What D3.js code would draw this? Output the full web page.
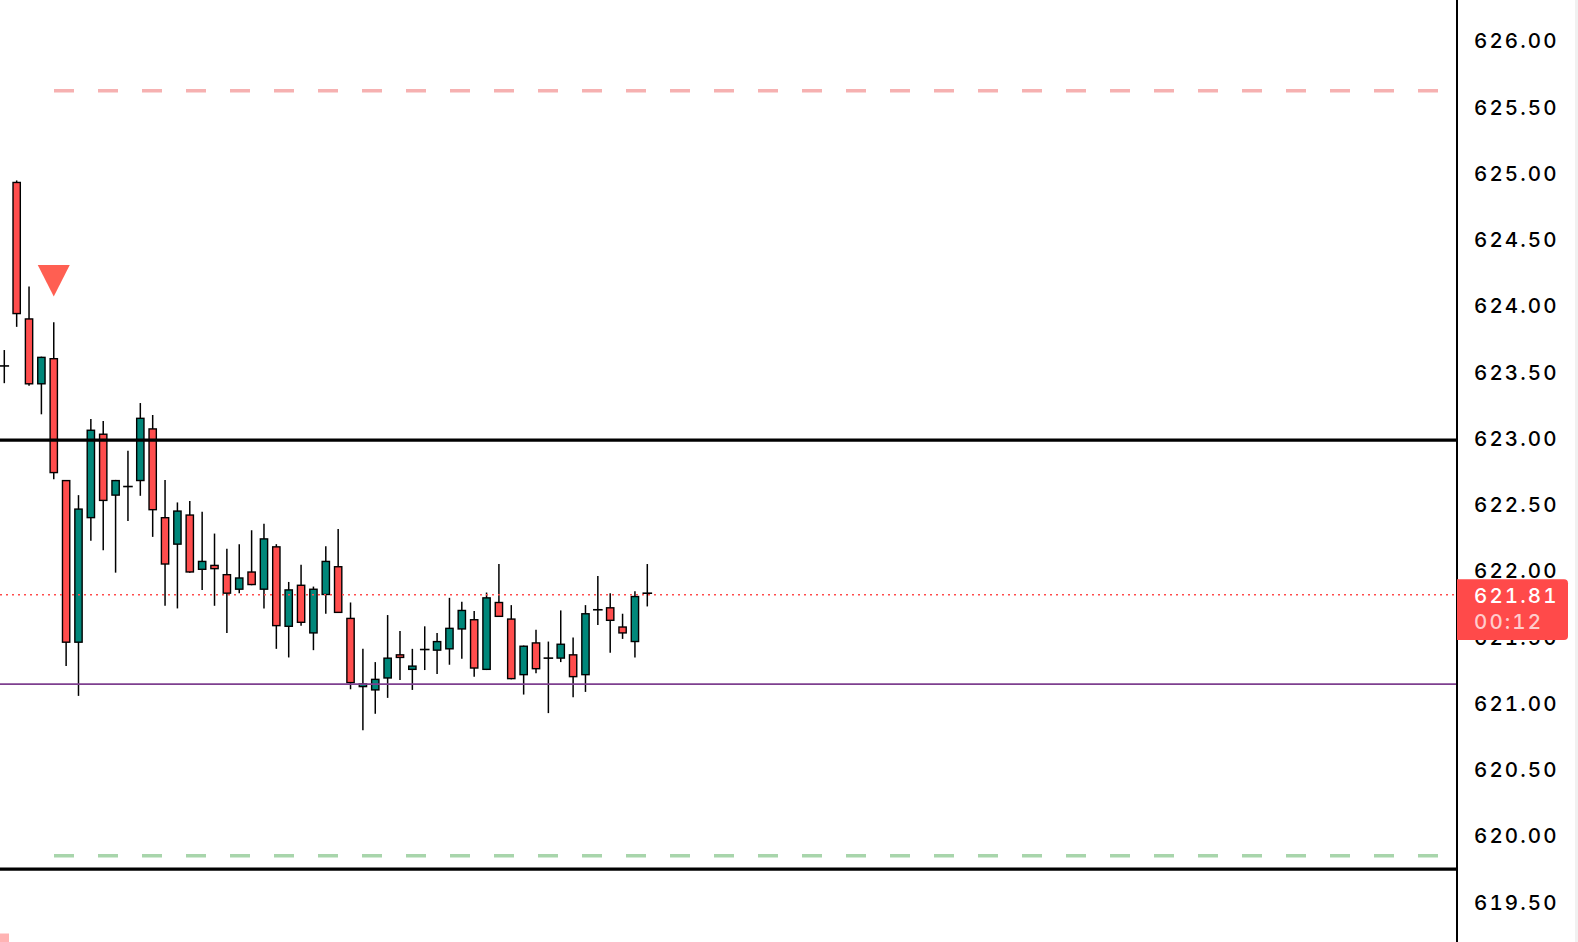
<!DOCTYPE html>
<html>
<head>
<meta charset="utf-8">
<script src="https://cdn.jsdelivr.net/npm/d3@7"></script>
<style>
    html, body { margin: 0; padding: 0; background: #fff; overflow: hidden; }
    svg { display: block; }
    .yaxis text, .lbl { font-family: Inter, "Liberation Sans", sans-serif; font-size: 20.5px; font-weight: 500; letter-spacing: 2.1px; font-feature-settings: "tnum"; }
    .yaxis text { fill: #000; }
</style>
</head>
<body>
<svg id="graph" width="1578" height="942"></svg>
<script>
// velas (precio)
var candleOpen = [623.55, 624.94, 623.91, 623.41, 623.61, 622.69, 621.46, 622.40, 623.04, 622.57,
    622.64, 622.68, 623.08, 622.41, 622.20, 622.43, 622.01, 622.05, 621.98, 621.86,
    622.00, 621.86, 622.19, 621.58, 621.90, 621.53, 621.82, 622.04, 621.65, 621.125,
    621.10, 621.19, 621.375, 621.255, 621.41, 621.40, 621.41, 621.56, 621.64, 621.255,
    621.77, 621.645, 621.215, 621.465, 621.345, 621.34, 621.375, 621.215, 621.71, 621.73,
    621.585, 621.465, 621.835];
var candleHigh = [623.67, 624.95, 624.15, 623.62, 623.88, 622.69, 622.575, 623.15, 623.135, 622.69,
    622.91, 623.27, 623.18, 622.69, 622.52, 622.53, 622.45, 622.285, 622.17, 622.205,
    622.31, 622.36, 622.205, 621.92, 622.05, 621.885, 622.19, 622.32, 621.765, 621.415,
    621.315, 621.67, 621.55, 621.415, 621.585, 621.535, 621.80, 621.77, 621.70, 621.84,
    622.055, 621.745, 621.44, 621.56, 621.47, 621.705, 621.50, 621.745, 621.965, 621.835,
    621.68, 621.85, 622.055];
var candleLow = [623.42, 623.845, 623.40, 623.185, 622.695, 621.285, 621.06, 622.23, 622.16, 621.99,
    622.38, 622.57, 622.26, 621.74, 621.72, 621.99, 621.86, 621.74, 621.535, 621.835,
    621.895, 621.72, 621.415, 621.35, 621.59, 621.405, 621.68, 621.685, 621.11, 620.80,
    620.925, 621.045, 621.18, 621.105, 621.255, 621.225, 621.295, 621.34, 621.205, 621.255,
    621.655, 621.185, 621.07, 621.23, 620.93, 621.315, 621.05, 621.09, 621.595, 621.385,
    621.49, 621.35, 621.735];
var candleClose = [623.55, 623.94, 623.41, 623.62, 622.74, 621.46, 622.475, 623.07, 622.53, 622.69,
    622.64, 623.16, 622.46, 622.05, 622.46, 621.99, 622.08, 622.015, 621.83, 621.955,
    621.895, 622.25, 621.585, 621.865, 621.61, 621.87, 622.08, 621.685, 621.155, 621.155,
    621.19, 621.35, 621.345, 621.29, 621.41, 621.475, 621.575, 621.71, 621.265, 621.805,
    621.655, 621.185, 621.44, 621.26, 621.345, 621.455, 621.20, 621.685, 621.71, 621.625,
    621.53, 621.815, 621.835];

// indice de la vela con la senal de venta
var signalIdx = [4];

// etiquetas del eje
var tickPrices = [626, 625.5, 625, 624.5, 624, 623.5, 623, 622.5, 622, 621.5, 621, 620.5, 620, 619.5];

// niveles horizontales
var solidLevels = [622.99, 619.753];
var purpleLevel = [621.149];
var dashLevels = [625.627, 619.853];
var dashColors = ["#f6b1b1", "#a8d5ab"];
var lastPrice = [621.823];
var lastLabel = ["621.81", "00:12"];

var colUp = "#00877a", colDown = "#ff4d4d";

let data = d3.range(candleOpen.length).map(i => ({
    i: i, o: candleOpen[i], h: candleHigh[i], l: candleLow[i], c: candleClose[i]
}));

let svg = d3.select("#graph");
var W = +svg.attr("width"), H = +svg.attr("height");
var axisX = 1457;

var x = d3.scaleLinear().domain([0, data.length - 1]).range([4.3, 647.3]);
var y = d3.scaleLinear().domain([626, 619.5]).range([41.3, 902.6]);

var bodyW = 7.3, sw = 1.4;

// velas
let g = svg.append("g");
let velas = g.selectAll(".vela").data(data).enter().append("g").attr("class", "vela");

velas.append("line")
    .attr("x1", d => x(d.i)).attr("x2", d => x(d.i))
    .attr("y1", d => y(d.h)).attr("y2", d => y(d.l))
    .attr("stroke", "#000").attr("stroke-width", 1.5);

velas.filter(d => Math.abs(d.o - d.c) < 0.004)
    .append("line")
    .attr("x1", d => x(d.i) - 4.8).attr("x2", d => x(d.i) + 4.8)
    .attr("y1", d => y(d.c)).attr("y2", d => y(d.c))
    .attr("stroke", "#000").attr("stroke-width", 1.6);

velas.filter(d => Math.abs(d.o - d.c) >= 0.004)
    .append("rect")
    .attr("x", d => x(d.i) - bodyW / 2)
    .attr("width", bodyW)
    .attr("y", d => y(Math.max(d.o, d.c)) + sw / 2)
    .attr("height", d => Math.max(Math.abs(y(d.o) - y(d.c)) - sw, 1))
    .attr("fill", d => d.c >= d.o ? colUp : colDown)
    .attr("stroke", "#000").attr("stroke-width", sw);

// lineas de nivel
svg.append("g").selectAll("line").data(dashLevels).enter().append("line")
    .attr("x1", 54).attr("x2", 1440)
    .attr("y1", d => y(d)).attr("y2", d => y(d))
    .attr("stroke", (d, i) => dashColors[i]).attr("stroke-width", 3.5)
    .attr("stroke-dasharray", "20,24");

svg.append("g").selectAll("line").data(purpleLevel).enter().append("line")
    .attr("x1", 0).attr("x2", axisX)
    .attr("y1", d => y(d)).attr("y2", d => y(d))
    .attr("stroke", "#7e3f8f").attr("stroke-width", 1.6);

svg.append("g").selectAll("line").data(lastPrice).enter().append("line")
    .attr("x1", 0).attr("x2", axisX)
    .attr("y1", d => y(d)).attr("y2", d => y(d))
    .attr("stroke", colDown).attr("stroke-width", 1.5)
    .attr("stroke-dasharray", "2,4");

svg.append("g").selectAll("line").data(solidLevels).enter().append("line")
    .attr("x1", 0).attr("x2", axisX)
    .attr("y1", d => y(d)).attr("y2", d => y(d))
    .attr("stroke", "#000").attr("stroke-width", 3.2);

// triangulo de senal
svg.append("g").selectAll("path").data(signalIdx).enter().append("path")
    .attr("d", i => {
        let cx = x(i), tip = y(candleHigh[i]) - 25.6;
        return "M" + (cx - 16) + "," + (tip - 31.7) + "L" + (cx + 16) + "," + (tip - 31.7) + "L" + cx + "," + tip + "Z";
    })
    .attr("fill", "#ff5f52");

// marcador cortado abajo a la izquierda
svg.append("rect").attr("x", 0).attr("y", H - 8.5).attr("width", 9).attr("height", 8.5).attr("fill", "#ffb3b3");

// borde gris a la derecha
svg.append("rect").attr("x", W - 3).attr("y", 0).attr("width", 3).attr("height", H).attr("fill", "#f1f1f1");

// eje y
let yaxis = svg.append("g").attr("class", "yaxis")
    .attr("transform", "translate(" + axisX + ",0)")
    .call(d3.axisRight(y).tickValues(tickPrices).tickFormat(d3.format(".2f")).tickSize(0).tickPadding(17));
yaxis.select(".domain").remove();

svg.append("line")
    .attr("x1", axisX).attr("x2", axisX).attr("y1", 0).attr("y2", H)
    .attr("stroke", "#000").attr("stroke-width", 2);

// etiqueta del ultimo precio
var bx = axisX, bw = W - 10 - axisX, by = y(lastPrice[0]) - 15.5, bh = 60.7, r = 4;
svg.append("path")
    .attr("d", "M" + bx + "," + by + "H" + (bx + bw - r) + "Q" + (bx + bw) + "," + by + " " + (bx + bw) + "," + (by + r) +
        "V" + (by + bh - r) + "Q" + (bx + bw) + "," + (by + bh) + " " + (bx + bw - r) + "," + (by + bh) + "H" + bx + "Z")
    .attr("fill", "#ff4a4a");

svg.append("g").selectAll("text").data(lastLabel).enter().append("text")
    .attr("class", "lbl")
    .attr("x", axisX + 17)
    .attr("y", (d, i) => by + 17 + i * 26.2)
    .attr("dy", "0.32em")
    .attr("fill", "#fff")
    .attr("fill-opacity", (d, i) => i == 0 ? 1 : 0.72)
    .text(d => d);
</script>
</body>
</html>
